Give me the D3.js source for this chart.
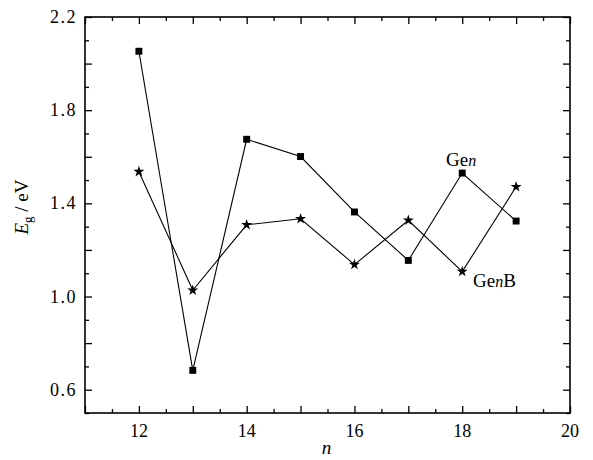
<!DOCTYPE html>
<html><head><meta charset="utf-8">
<script src="https://cdn.jsdelivr.net/npm/d3@7"></script>
<style>
body{margin:0;background:#fff;}
svg text{font-family:"Liberation Serif","Times New Roman",serif;}
</style></head>
<body><svg id="c" width="593" height="460"></svg>
<script>
const nValues = [12, 13, 14, 15, 16, 17, 18, 19];
const geN = [2.053, 0.683, 1.675, 1.601, 1.363, 1.155, 1.530, 1.324];
const geNB = [1.536, 1.027, 1.308, 1.334, 1.137, 1.327, 1.107, 1.471];
const xLabelTicks = [12, 14, 16, 18, 20];
const yLabelTicks = [0.6, 1.0, 1.4, 1.8, 2.2];

const FONT = "Liberation Serif, Times New Roman, serif";
const svg = d3.select("#c");
const L = 85, R = 570, T = 17, B = 413;
const x = d3.scaleLinear().domain([11, 20]).range([L, R]);
const y = d3.scaleLinear().domain([0.5, 2.2]).range([B, T]);

const xMajor = d3.range(11, 20.01, 1);
const xMinor = d3.range(11.5, 20, 1);
const yMajor = d3.range(6, 23, 2).map(v => v / 10);
const yMinor = d3.range(5, 23, 2).map(v => v / 10);

function styleAxis(g){
  g.select(".domain").remove();
  g.selectAll("line").attr("stroke","#000").attr("stroke-width",1.3);
}
svg.append("g").attr("transform",`translate(0,${B})`)
  .call(d3.axisBottom(x).tickValues(xMajor).tickSize(-7).tickFormat("")).call(styleAxis);
svg.append("g").attr("transform",`translate(0,${B})`)
  .call(d3.axisBottom(x).tickValues(xMinor).tickSize(-4).tickFormat("")).call(styleAxis);
svg.append("g").attr("transform",`translate(0,${T})`)
  .call(d3.axisTop(x).tickValues(xMajor).tickSize(-7).tickFormat("")).call(styleAxis);
svg.append("g").attr("transform",`translate(0,${T})`)
  .call(d3.axisTop(x).tickValues(xMinor).tickSize(-4).tickFormat("")).call(styleAxis);
svg.append("g").attr("transform",`translate(${L},0)`)
  .call(d3.axisLeft(y).tickValues(yMajor).tickSize(-7).tickFormat("")).call(styleAxis);
svg.append("g").attr("transform",`translate(${L},0)`)
  .call(d3.axisLeft(y).tickValues(yMinor).tickSize(-4).tickFormat("")).call(styleAxis);
svg.append("g").attr("transform",`translate(${R},0)`)
  .call(d3.axisRight(y).tickValues(yMajor).tickSize(-7).tickFormat("")).call(styleAxis);
svg.append("g").attr("transform",`translate(${R},0)`)
  .call(d3.axisRight(y).tickValues(yMinor).tickSize(-4).tickFormat("")).call(styleAxis);

svg.append("rect").attr("x",L).attr("y",T).attr("width",R-L).attr("height",B-T)
  .attr("fill","none").attr("stroke","#000").attr("stroke-width",1.6);

svg.append("g").selectAll("text").data(xLabelTicks).join("text")
  .attr("x",d=>x(d)).attr("y",B+24).attr("text-anchor","middle")
  .attr("font-family",FONT).attr("font-size",18).attr("fill","#000").text(d=>d);
svg.append("g").selectAll("text").data(yLabelTicks).join("text")
  .attr("x",L-8).attr("y",d=>y(d)+6).attr("text-anchor","end")
  .attr("font-family",FONT).attr("font-size",18).attr("letter-spacing",1.5).attr("fill","#000").text(d=>d.toFixed(1));

svg.append("text").attr("x",(L+R)/2-1).attr("y",454).attr("text-anchor","middle")
  .attr("font-family",FONT).attr("font-size",19).attr("font-style","italic").text("n");
const yt = svg.append("text").attr("transform","translate(28,207) rotate(-90)")
  .attr("text-anchor","middle").attr("font-family",FONT).attr("font-size",19);
yt.append("tspan").attr("font-style","italic").text("E");
yt.append("tspan").attr("font-size",13).attr("dy",4).text("g");
yt.append("tspan").attr("dy",-4).text(" / eV");

const line = d3.line().x((d,i)=>x(nValues[i])).y(d=>y(d));
svg.append("path").datum(geN).attr("d",line).attr("fill","none").attr("stroke","#000").attr("stroke-width",1.1);
svg.append("path").datum(geNB).attr("d",line).attr("fill","none").attr("stroke","#000").attr("stroke-width",1.1);

const sq = d3.symbol().type(d3.symbolSquare).size(48);
const st = d3.symbol().type(d3.symbolStar).size(38);
svg.append("g").selectAll("path").data(geN).join("path")
  .attr("transform",(d,i)=>`translate(${x(nValues[i])},${y(d)})`).attr("d",sq).attr("fill","#000");
svg.append("g").selectAll("path").data(geNB).join("path")
  .attr("transform",(d,i)=>`translate(${x(nValues[i])},${y(d)})`).attr("d",st).attr("fill","#000");

const l1 = svg.append("text").attr("x",446).attr("y",166).attr("font-family",FONT).attr("font-size",19);
l1.append("tspan").text("Ge");
l1.append("tspan").attr("font-style","italic").attr("font-size",16).text("n");
const l2 = svg.append("text").attr("x",473).attr("y",287).attr("font-family",FONT).attr("font-size",19);
l2.append("tspan").text("Ge");
l2.append("tspan").attr("font-style","italic").attr("font-size",16).text("n");
l2.append("tspan").text("B");
</script></body></html>
